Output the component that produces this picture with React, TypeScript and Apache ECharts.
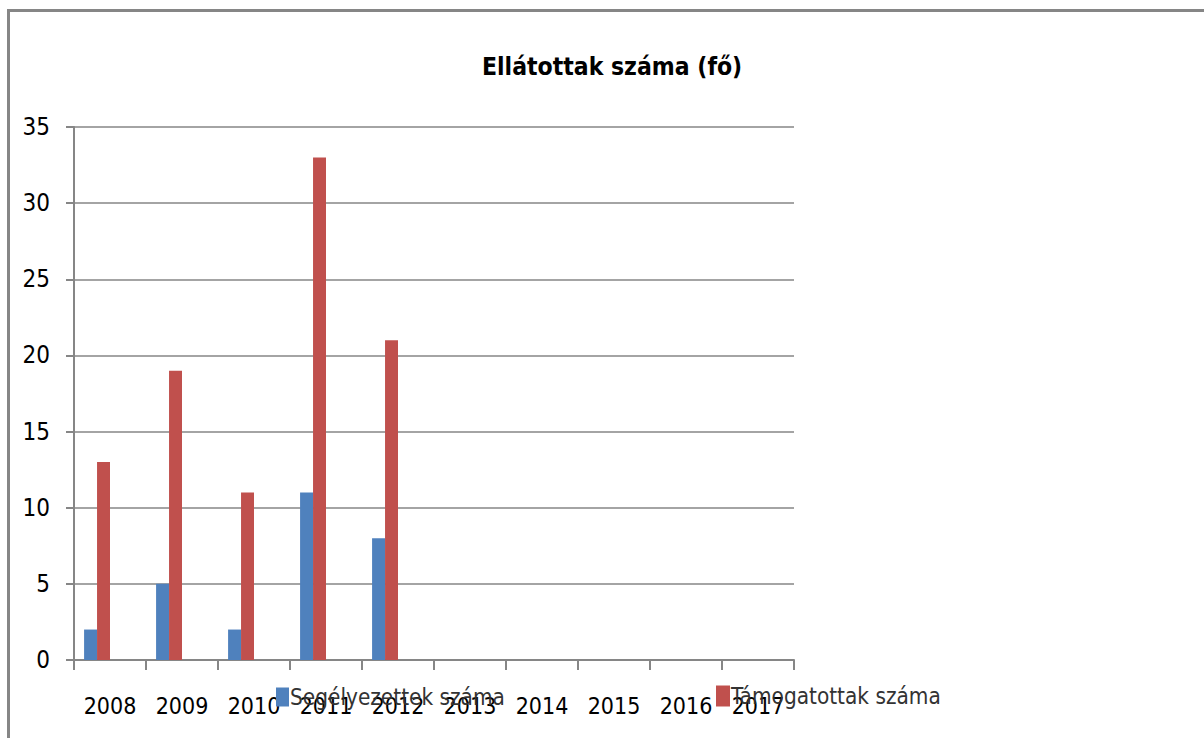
import React, { useEffect, useRef } from "react";
import * as echarts from "echarts";

const years = ["2008", "2009", "2010", "2011", "2012", "2013", "2014", "2015", "2016", "2017"];
const segelyezettek = [2, 5, 2, 11, 8, null, null, null, null, null];
const tamogatottak = [13, 19, 11, 33, 21, null, null, null, null, null];
const emptyA = [null, null, null, null, null, null, null, null, null, null];
const emptyB = [null, null, null, null, null, null, null, null, null, null];
const yTicks = { min: 0, max: 35, interval: 5 };

const FONT = "'DejaVu Sans Condensed', 'Liberation Sans', sans-serif";
const GRAY = "#868686";

export default function App() {
  const ref = useRef<HTMLDivElement>(null);
  useEffect(() => {
    document.body.style.margin = "0";
    const chart = echarts.init(ref.current!, null, { renderer: "svg" });
    chart.setOption({
      animation: false,
      backgroundColor: "#ffffff",
      title: {
        text: "Ellátottak száma (fő)",
        left: 477,
        top: 49,
        textStyle: { fontFamily: FONT, fontWeight: "bold", fontSize: 24.5, color: "#000" },
      },
      legend: [
        {
          data: ["Segélyezettek száma"],
          left: 271,
          top: 681,
          itemWidth: 13,
          itemHeight: 19,
          itemGap: 0,
          icon: "rect",
          textStyle: { fontFamily: FONT, fontSize: 22.4, color: "#333", padding: [0, 0, 0, -4] },
        },
        {
          data: ["Támogatottak száma"],
          left: 711,
          top: 680,
          itemWidth: 14,
          itemHeight: 21,
          itemGap: 0,
          icon: "rect",
          textStyle: { fontFamily: FONT, fontSize: 22.4, color: "#333", padding: [0, 0, 0, -4] },
        },
      ],
      grid: { left: 74, right: 410, top: 127, bottom: 78, containLabel: false },
      xAxis: {
        type: "category",
        data: years,
        boundaryGap: true,
        axisLine: { lineStyle: { color: GRAY, width: 2 } },
        axisTick: { show: true, length: 10, lineStyle: { color: GRAY, width: 2 } },
        axisLabel: { fontFamily: FONT, fontSize: 23, color: "#000", margin: 34, interval: 0 },
      },
      yAxis: {
        type: "value",
        min: yTicks.min,
        max: yTicks.max,
        interval: yTicks.interval,
        axisLine: { show: true, lineStyle: { color: GRAY, width: 2 } },
        axisTick: { show: true, length: 8, lineStyle: { color: GRAY, width: 2 } },
        splitLine: { lineStyle: { color: GRAY, width: 1.5 } },
        axisLabel: { fontFamily: FONT, fontSize: 24, color: "#000", margin: 24 },
      },
      series: [
        { name: "Segélyezettek száma", type: "bar", data: segelyezettek, barGap: "0%", barCategoryGap: "28%", itemStyle: { color: "#4F81BD" } },
        { name: "Támogatottak száma", type: "bar", data: tamogatottak, barGap: "0%", barCategoryGap: "28%", itemStyle: { color: "#C0504D" } },
        { name: "s3", type: "bar", data: emptyA, barGap: "0%", barCategoryGap: "28%", itemStyle: { color: "#9BBB59" } },
        { name: "s4", type: "bar", data: emptyB, barGap: "0%", barCategoryGap: "28%", itemStyle: { color: "#8064A2" } },
      ],
      graphic: [
        {
          type: "rect",
          shape: { x: 8.5, y: 10.5, width: 1400, height: 900 },
          style: { fill: "none", stroke: GRAY, lineWidth: 3 },
          silent: true,
        },
      ],
    });
    return () => chart.dispose();
  }, []);
  return <div ref={ref} style={{ width: 1204, height: 738 }} />;
}
